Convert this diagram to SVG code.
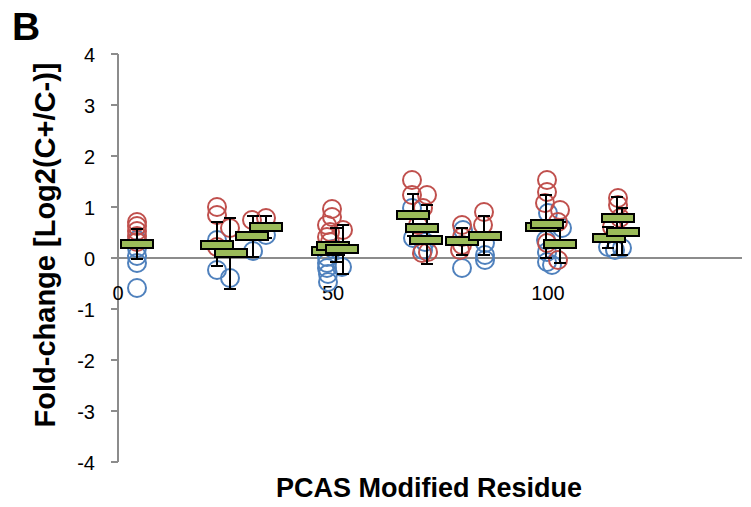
<svg xmlns="http://www.w3.org/2000/svg" width="751" height="507" viewBox="0 0 751 507">
  <style>
    .axis { stroke: #8c8c8c; stroke-width: 2; fill: none; }
    .tick { font-family: "Liberation Sans", Arial, sans-serif; font-size: 20px; fill: #000; }
    .title { font-family: "Liberation Sans", Arial, sans-serif; font-weight: bold; fill: #000; }
    .err path { stroke: #000; stroke-width: 2; fill: none; }
    .bar rect { fill: #9BBB59; stroke: #000; stroke-width: 2; }
  </style>
  <defs>
    <circle id="pt" r="9"/>
  </defs>

  <rect width="751" height="507" fill="#fff"/>

  <!-- panel letter -->
  <text x="12" y="40" class="title" font-size="39">B</text>

  <!-- axes -->
  <g id="axes">
    <path class="axis" d="M118,54 V462 M111,54 H118 M111,105 H118 M111,156 H118 M111,207 H118 M111,258 H118 M111,309 H118 M111,360 H118 M111,411 H118 M111,462 H118"/>
    <path class="axis" d="M118,258 H742"/>
  </g>

  <g id="y-labels" class="tick" text-anchor="end">
    <text x="95" y="62">4</text>
    <text x="95" y="113">3</text>
    <text x="95" y="164">2</text>
    <text x="95" y="215">1</text>
    <text x="95" y="266">0</text>
    <text x="95" y="317">-1</text>
    <text x="95" y="368">-2</text>
    <text x="95" y="419">-3</text>
    <text x="95" y="470">-4</text>
  </g>
  <g id="x-labels" class="tick" text-anchor="middle">
    <text x="118" y="300">0</text>
    <text x="333" y="300">50</text>
    <text x="548" y="300">100</text>
  </g>

  <text class="title" font-size="27" x="429" y="497" text-anchor="middle">PCAS Modified Residue</text>
  <text class="title" font-size="29" text-anchor="middle" transform="translate(55,245) rotate(-90)">Fold-change [Log2(C+/C-)]</text>

  <!-- individual measurements -->
  <g id="points-blue" fill="none" stroke="#4F81BD" stroke-width="2">
    <use href="#pt" x="137" y="240"/><use href="#pt" x="137" y="248"/><use href="#pt" x="137" y="256"/><use href="#pt" x="137" y="263"/><use href="#pt" x="137" y="288"/>
    <use href="#pt" x="217" y="240"/><use href="#pt" x="217" y="270"/><use href="#pt" x="230" y="278"/><use href="#pt" x="253" y="251"/><use href="#pt" x="266" y="235"/>
    <use href="#pt" x="327" y="257"/><use href="#pt" x="327" y="263"/><use href="#pt" x="327" y="268"/><use href="#pt" x="328" y="274"/><use href="#pt" x="328" y="282"/><use href="#pt" x="342" y="267"/><use href="#pt" x="333" y="249"/>
    <use href="#pt" x="412" y="208"/><use href="#pt" x="413" y="238"/><use href="#pt" x="425" y="242"/><use href="#pt" x="423" y="250"/>
    <use href="#pt" x="463" y="230"/><use href="#pt" x="462" y="268"/>
    <use href="#pt" x="485" y="243"/><use href="#pt" x="485" y="255"/><use href="#pt" x="485" y="260"/>
    <use href="#pt" x="548" y="213"/><use href="#pt" x="547" y="252"/><use href="#pt" x="547" y="262"/><use href="#pt" x="552" y="265"/><use href="#pt" x="562" y="228"/><use href="#pt" x="546" y="240"/>
    <use href="#pt" x="608" y="247"/><use href="#pt" x="615" y="250"/><use href="#pt" x="622" y="248"/>
  </g>
  <g id="points-red" fill="none" stroke="#C0504D" stroke-width="2">
    <use href="#pt" x="137" y="222"/><use href="#pt" x="137" y="226"/><use href="#pt" x="137" y="231"/><use href="#pt" x="137" y="236"/><use href="#pt" x="137" y="242"/>
    <use href="#pt" x="217" y="207"/><use href="#pt" x="217" y="215"/><use href="#pt" x="230" y="228"/><use href="#pt" x="252" y="220"/><use href="#pt" x="266" y="218"/><use href="#pt" x="217" y="247"/>
    <use href="#pt" x="332" y="209"/><use href="#pt" x="332" y="217"/><use href="#pt" x="327" y="225"/><use href="#pt" x="343" y="230"/><use href="#pt" x="330" y="232"/><use href="#pt" x="327" y="237"/><use href="#pt" x="330" y="242"/>
    <use href="#pt" x="412" y="180"/><use href="#pt" x="412" y="195"/><use href="#pt" x="427" y="195"/><use href="#pt" x="423" y="208"/><use href="#pt" x="418" y="225"/><use href="#pt" x="422" y="253"/><use href="#pt" x="428" y="252"/>
    <use href="#pt" x="462" y="225"/><use href="#pt" x="462" y="237"/><use href="#pt" x="462" y="245"/><use href="#pt" x="460" y="250"/>
    <use href="#pt" x="484" y="212"/><use href="#pt" x="483" y="225"/>
    <use href="#pt" x="547" y="180"/><use href="#pt" x="547" y="192"/><use href="#pt" x="545" y="203"/><use href="#pt" x="560" y="210"/><use href="#pt" x="558" y="222"/><use href="#pt" x="547" y="243"/><use href="#pt" x="558" y="260"/>
    <use href="#pt" x="618" y="198"/><use href="#pt" x="618" y="205"/><use href="#pt" x="620" y="218"/><use href="#pt" x="612" y="227"/>
  </g>

  <!-- error bars -->
  <g id="error-bars" class="err">
    <path d="M137,229 V259 M131,229 H143 M131,259 H143"/>
    <path d="M217,222 V266 M211,222 H223 M211,266 H223"/>
    <path d="M230,218 V289 M224,218 H236 M224,289 H236"/>
    <path d="M253,216 V257 M247,216 H259 M247,257 H259"/>
    <path d="M266,216 V238 M260,216 H272 M260,238 H272"/>
    <path d="M336,228 V262 M330,228 H342 M330,262 H342"/>
    <path d="M343,225 V274 M337,225 H349 M337,274 H349"/>
    <path d="M413,194 V236 M407,194 H419 M407,236 H419"/>
    <path d="M427,205 V264 M421,205 H433 M421,264 H433"/>
    <path d="M462,228 V255 M456,228 H468 M456,255 H468"/>
    <path d="M484,216 V255 M478,216 H490 M478,255 H490"/>
    <path d="M546,195 V258 M540,195 H552 M540,258 H552"/>
    <path d="M560,222 V263 M554,222 H566 M554,263 H566"/>
    <path d="M608,227 V248 M602,227 H614 M602,248 H614"/>
    <path d="M617,197 V255 M611,197 H623 M611,255 H623"/>
    <path d="M622,208 V255 M616,208 H628 M616,255 H628"/>
  </g>

  <!-- mean markers -->
  <g id="means" class="bar">
    <rect x="121" y="240" width="32" height="8"/>
    <rect x="201" y="241" width="32" height="8"/>
    <rect x="215" y="249" width="32" height="8"/>
    <rect x="236" y="232" width="32" height="8"/>
    <rect x="250" y="223" width="32" height="8"/>
    <rect x="312" y="247" width="32" height="8"/>
    <rect x="317" y="242" width="32" height="8"/>
    <rect x="326" y="245" width="32" height="8"/>
    <rect x="397" y="211" width="32" height="8"/>
    <rect x="406" y="224" width="32" height="8"/>
    <rect x="410" y="236" width="32" height="8"/>
    <rect x="446" y="237" width="32" height="8"/>
    <rect x="469" y="232" width="32" height="8"/>
    <rect x="526" y="223" width="32" height="8"/>
    <rect x="531" y="220" width="32" height="8"/>
    <rect x="544" y="240" width="32" height="8"/>
    <rect x="593" y="234" width="32" height="8"/>
    <rect x="602" y="214" width="32" height="8"/>
    <rect x="607" y="228" width="32" height="8"/>
  </g>
</svg>
